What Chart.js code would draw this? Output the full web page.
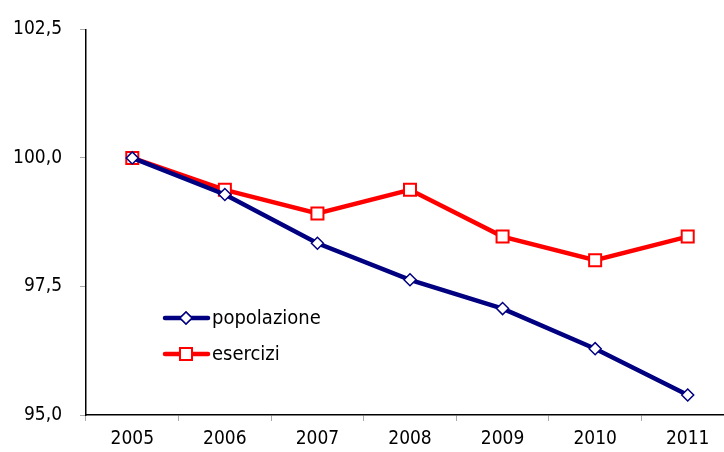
<!DOCTYPE html>
<html>
<head>
<meta charset="utf-8">
<script src="https://cdn.jsdelivr.net/npm/chart.js@4"></script>
<style>
  html, body { margin: 0; padding: 0; background: #fff; }
  #wrap { width: 724px; height: 452px; overflow: hidden; position: relative; }
</style>
</head>
<body>
<div id="wrap"><canvas id="line-chart" width="734" height="452"></canvas></div>
<script>
var years = ["2005", "2006", "2007", "2008", "2009", "2010", "2011"]
var popolazione = [100.0, 99.29, 98.34, 97.63, 97.07, 96.29, 95.39]
var esercizi = [100.0, 99.38, 98.92, 99.38, 98.47, 98.01, 98.47]
var yTicks = [95.0, 97.5, 100.0, 102.5]

var fontName = "'DejaVu Sans Condensed', 'DejaVu Sans', sans-serif"

// legend drawn inside the plot, like the original
var innerLegend = {
  id: "innerLegend",
  afterDatasetsDraw: function(chart){
    var ctx = chart.ctx
    var rows = [[165, 318], [165, 354]]
    chart.data.datasets.forEach(function(ds, i){
      var x = rows[i][0], y = rows[i][1]
      ctx.save()
      ctx.strokeStyle = ds.borderColor
      ctx.lineWidth = ds.borderWidth
      ctx.lineCap = "round"
      ctx.beginPath()
      ctx.moveTo(x, y)
      ctx.lineTo(x + 43, y)
      ctx.stroke()
      ctx.fillStyle = ds.pointBackgroundColor
      ctx.strokeStyle = ds.pointBorderColor
      ctx.lineWidth = ds.pointBorderWidth
      Chart.helpers.drawPoint(ctx, {pointStyle: ds.pointStyle, radius: ds.pointRadius, borderWidth: ds.pointBorderWidth}, x + 21, y)
      ctx.fill()
      ctx.stroke()
      ctx.fillStyle = "#000"
      ctx.font = "20px " + fontName
      ctx.textBaseline = "middle"
      ctx.textAlign = "left"
      ctx.fillText(ds.label, x + 47, y + 1)
      ctx.restore()
    })
  }
}

var myChart = new Chart(document.getElementById("line-chart"), {
  type: 'line',
  data: {
    labels: years,
    datasets: [
      {
        label: "popolazione",
        data: popolazione,
        borderColor: "#000080",
        borderWidth: 4.5,
        pointStyle: "rectRot",
        pointRadius: 6,
        pointBorderWidth: 1.5,
        pointBackgroundColor: "#fff",
        pointBorderColor: "#000080",
        tension: 0
      },
      {
        label: "esercizi",
        data: esercizi,
        borderColor: "#ff0000",
        borderWidth: 4.5,
        pointStyle: "rect",
        pointRadius: 8.5,
        pointBorderWidth: 2,
        pointBackgroundColor: "#fff",
        pointBorderColor: "#ff0000",
        tension: 0
      }
    ]
  },
  options: {
    responsive: false,
    animation: false,
    layout: { autoPadding: false, padding: { top: 21, left: 0, right: 0, bottom: 0 } },
    plugins: {
      legend: { display: false },
      tooltip: { enabled: false }
    },
    scales: {
      x: {
        offset: true,
        afterFit: function(scale){ scale.height = 37 },
        grid: { drawOnChartArea: false, offset: true, tickLength: 6, color: "#aaa" },
        border: { color: "#000", width: 1.5 },
        ticks: { color: "#000", font: { family: fontName, size: 19 }, padding: 7, maxRotation: 0 }
      },
      y: {
        min: 95,
        max: 102.5,
        afterFit: function(scale){ scale.width = 86 },
        afterBuildTicks: function(scale){
          scale.ticks = yTicks.map(function(v){ return {value: v} })
        },
        grid: { drawOnChartArea: false, tickLength: 6, color: "#aaa" },
        border: { color: "#000", width: 1.5 },
        ticks: {
          color: "#000",
          font: { family: fontName, size: 19 },
          padding: 18,
          callback: function(v){ return v.toFixed(1).replace(".", ",") }
        }
      }
    }
  },
  plugins: [innerLegend]
});
</script>
</body>
</html>
